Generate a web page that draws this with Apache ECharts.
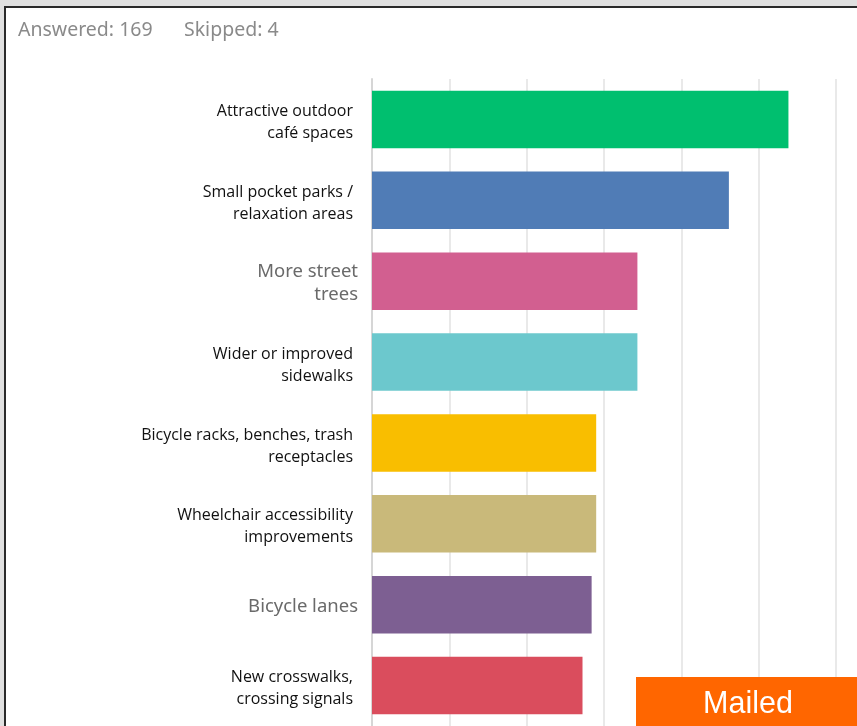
<!DOCTYPE html>
<html>
<head>
<meta charset="utf-8">
<script src="https://cdn.jsdelivr.net/npm/echarts@6/dist/echarts.min.js"></script>
<style>
html,body{margin:0;padding:0;background:#e0e0e0;}
#c{width:857px;height:726px;}
</style>
</head>
<body>
<div id="c"></div>
<script>
const categories = [
  "Attractive outdoor\ncafé spaces",
  "Small pocket parks /\nrelaxation areas",
  "More street\ntrees",
  "Wider or improved\nsidewalks",
  "Bicycle racks, benches, trash\nreceptacles",
  "Wheelchair accessibility\nimprovements",
  "Bicycle lanes",
  "New crosswalks,\ncrossing signals"
];
const labelStyles = ["a","a","b","a","a","a","b","a"];
const values = [53.85, 46.15, 34.32, 34.32, 28.99, 28.99, 28.40, 27.22];
const colors = ["#00bf6f","#507cb6","#d25f90","#6cc8cd","#f9be00","#c9b97a","#7d5f92","#da4d5d"];
const axisTicks = [0, 10, 20, 30, 40, 50, 60];

const chart = echarts.init(document.getElementById('c'));
chart.setOption({
  animation: false,
  backgroundColor: 'transparent',
  grid: {left: 372, right: 21, top: 79, bottom: 0, containLabel: false},
  xAxis: {
    type: 'value', min: axisTicks[0], max: axisTicks[axisTicks.length-1], interval: 10,
    axisLabel: {show: false}, axisLine: {show: false}, axisTick: {show: false},
    splitLine: {show: true, lineStyle: {color: '#e9e9e9', width: 2}}
  },
  yAxis: {
    type: 'category', data: categories, inverse: true,
    axisTick: {show: false},
    axisLine: {show: true, lineStyle: {color: '#d6d6d6', width: 2}},
    axisLabel: {
      margin: 14,
      formatter: function (v, i) {
        const s = labelStyles[i];
        return v.split('\n').map(l => '{' + s + '|' + l + '}').join('\n');
      },
      rich: {
        a: {fontFamily: 'Open Sans', fontSize: 16, color: '#111', lineHeight: 22, padding: [6, 5, 0, 0]},
        b: {fontFamily: 'Noto Sans', fontSize: 18.5, color: '#6a6a6a', lineHeight: 23, padding: [5, 0, 0, 0]}
      }
    }
  },
  series: [{
    type: 'bar',
    data: values.map((v, i) => ({value: v, itemStyle: {color: colors[i]}})),
    barCategoryGap: '29%'
  }],
  graphic: [
    {type: 'rect', z: -10, silent: true, shape: {x: 5, y: 7, width: 900, height: 800},
      style: {fill: '#fff', stroke: '#2a2a2a', lineWidth: 2}},
    {type: 'text', left: 18, top: 20, z: 10,
      style: {text: 'Answered: 169', fontFamily: 'Noto Sans', fontSize: 19.5, fill: '#8a8a8a'}},
    {type: 'text', left: 184, top: 20, z: 10,
      style: {text: 'Skipped: 4', fontFamily: 'Noto Sans', fontSize: 19.5, fill: '#8a8a8a'}},
    {type: 'rect', z: 20, shape: {x: 636, y: 677, width: 221, height: 49}, style: {fill: '#ff6600'}},
    {type: 'text', z: 21, x: 748, y: 705,
      style: {text: 'Mailed', fontFamily: 'Liberation Sans', fontSize: 30.5, fill: '#fff', align: 'center', verticalAlign: 'middle'}}
  ]
});
</script>
</body>
</html>
